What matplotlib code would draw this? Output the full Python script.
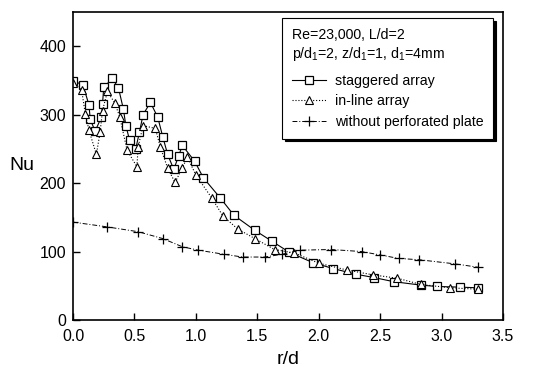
import numpy as np
import matplotlib.pyplot as plt

plt.rcParams['font.family'] = ['Liberation Sans', 'DejaVu Sans']

# staggered array
r_stag = [0.0, 0.08, 0.13, 0.14, 0.18, 0.23, 0.24, 0.25, 0.32, 0.37, 0.41, 0.43, 0.46,
          0.51, 0.54, 0.57, 0.63, 0.69, 0.73, 0.77, 0.82, 0.86, 0.89, 0.99, 1.06, 1.20,
          1.31, 1.48, 1.62, 1.76, 1.95, 2.12, 2.30, 2.45, 2.61, 2.83, 2.96, 3.15, 3.30]
nu_stag = [349, 344, 314, 293, 276, 296, 316, 340, 353, 339, 308, 284, 263,
           250, 274, 300, 318, 296, 268, 242, 220, 240, 255, 232, 208, 178,
           153, 131, 115, 99, 84, 75, 67, 62, 56, 51, 49, 48, 47]

# in-line array
r_inl = [0.0, 0.07, 0.10, 0.13, 0.19, 0.22, 0.24, 0.28, 0.34, 0.38, 0.44, 0.52, 0.53,
         0.57, 0.67, 0.71, 0.77, 0.83, 0.89, 0.93, 1.00, 1.13, 1.22,
         1.34, 1.48, 1.64, 1.80, 2.00, 2.23, 2.44, 2.64, 2.83, 3.07, 3.30]
nu_inl = [347, 336, 301, 277, 242, 274, 306, 334, 317, 297, 248, 224, 253,
          284, 280, 253, 222, 201, 222, 238, 212, 178, 152,
          133, 119, 103, 98, 83, 73, 66, 61, 52, 47, 45]

# without perforated plate
r_none = [0.0, 0.28, 0.53, 0.73, 0.89, 1.02, 1.23, 1.38, 1.56, 1.70, 1.85,
          2.10, 2.35, 2.50, 2.65, 2.82, 3.11, 3.30]
nu_none = [143, 136, 129, 119, 107, 102, 96, 92, 92, 96, 102,
           103, 100, 95, 90, 88, 82, 77]

fig = plt.figure(figsize=(5.37, 3.71), dpi=100)
ax = fig.add_axes([0.136, 0.1375, 0.8007, 0.830])

ax.plot(r_stag, nu_stag, color='k', lw=0.8, ls='-', marker='s', ms=6,
        mfc='white', mec='k', mew=0.9, label='staggered array')
ax.plot(r_inl, nu_inl, color='k', lw=0.8, ls=':', marker='^', ms=6,
        mfc='white', mec='k', mew=0.8, label='in-line array')
ax.plot(r_none, nu_none, color='k', lw=0.7, ls='-.', marker='+', ms=6.5,
        mec='k', mew=0.9, label='without perforated plate', dashes=(5, 2, 1, 2))

ax.set_xlim(0, 3.5)
ax.set_ylim(0, 450)
ax.set_xticks(np.arange(0, 3.51, 0.5))
ax.set_yticks([0, 100, 200, 300, 400])
ax.tick_params(direction='in', length=5, width=1, labelsize=11.5, top=False, right=False)
ax.tick_params(axis='x', pad=6.5)
ax.tick_params(axis='y', pad=5)
for s in ax.spines.values():
    s.set_linewidth(1.2)

ax.set_xlabel('r/d', fontsize=14)
ax.xaxis.set_label_coords(0.5, -0.10)
ax.set_ylabel('Nu', fontsize=14, rotation=0)
ax.yaxis.set_label_coords(-0.12, 0.474)

leg = ax.legend(loc='upper right', bbox_to_anchor=(0.977, 0.98), borderaxespad=0,
                title='Re=23,000, L/d=2\np/d$_\\mathregular{1}$=2, z/d$_\\mathregular{1}$=1, d$_\\mathregular{1}$=4mm',
                alignment='left', fontsize=10.2, title_fontsize=10.2, fancybox=False,
                edgecolor='k', framealpha=1, shadow={'color': 'k', 'alpha': 1},
                handlelength=2.4, handletextpad=0.6, labelspacing=0.45, borderpad=0.7)
leg.get_frame().set_linewidth(0.8)
leg._legend_box.sep = 8

fig.savefig('out.png', dpi=100)
